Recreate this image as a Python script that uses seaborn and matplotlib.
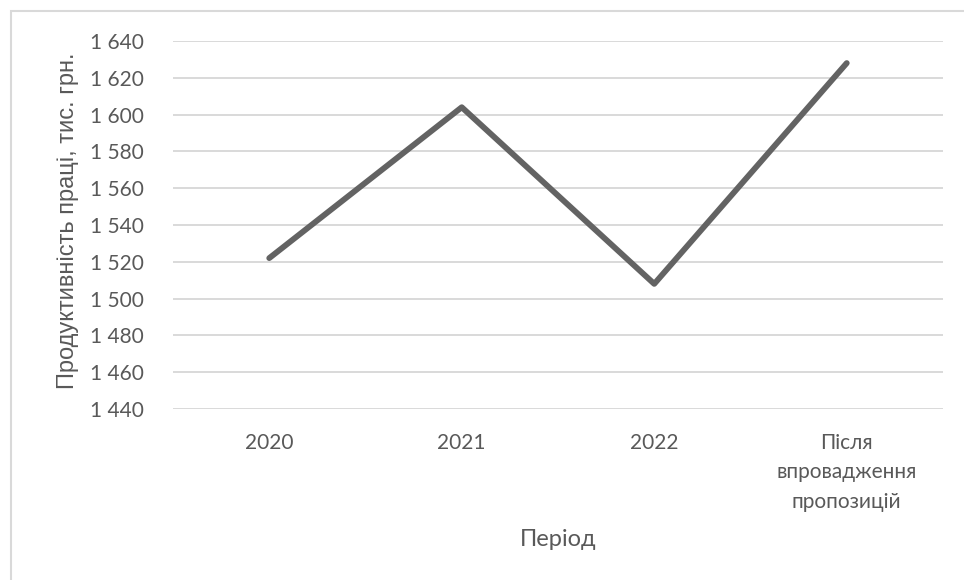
import matplotlib
matplotlib.use("Agg")
import matplotlib.pyplot as plt
from matplotlib.patches import Rectangle
import seaborn as sns
import pandas as pd

# Labour productivity by period, thousand UAH
periods = ["2020", "2021", "2022", "Після\nвпровадження\nпропозицій"]
productivity = [1522, 1604, 1508, 1628]
y_ticks = [1440, 1460, 1480, 1500, 1520, 1540, 1560, 1580, 1600, 1620, 1640]
y_tick_labels = ["1 440", "1 460", "1 480", "1 500", "1 520", "1 540",
                 "1 560", "1 580", "1 600", "1 620", "1 640"]

df = pd.DataFrame({"period": periods, "value": productivity})

sns.set_theme(style="white")
plt.rcParams["font.family"] = ["Lato", "Open Sans", "DejaVu Sans"]

W, H = 964, 580
fig = plt.figure(figsize=(W / 100, H / 100), dpi=100)
ax = fig.add_axes([173 / W, 1 - 409 / H, (943 - 173) / W, (409 - 41) / H])

text_color = "#595959"
grid_color = "#d9d9d9"

for yv in y_ticks:
    ax.axhline(yv, color=grid_color, lw=1.4, zorder=1)

sns.lineplot(data=df, x="period", y="value", ax=ax, color="#636363",
             lw=4.2, sort=False, zorder=3,
             solid_joinstyle="round", solid_capstyle="round")

ax.set_xlim(-0.5, len(periods) - 0.5)
ax.set_ylim(1440, 1640)
ax.set_yticks(y_ticks)
ax.set_yticklabels(y_tick_labels)
ax.tick_params(axis="y", length=0, pad=21, labelsize=15, labelcolor=text_color)
ax.tick_params(axis="x", length=0, pad=17, labelsize=15, labelcolor=text_color)
for lbl in ax.get_xticklabels():
    lbl.set_linespacing(1.6)
for s in ax.spines.values():
    s.set_visible(False)
ax.set_xlabel("")
ax.set_ylabel("")

fig.text(68 / W, 1 - 221 / H, "Продуктивність праці, тис. грн.",
         rotation=90, ha="center", va="center", fontsize=17,
         color=text_color, family=["Liberation Sans", "DejaVu Sans"])
fig.text(558 / W, 1 - 540 / H, "Період", ha="center", va="center",
         fontsize=17, color=text_color)

# chart area frame
fig.add_artist(Rectangle((11 / W, -0.1), 1.2, 1 - 11 / H + 0.1,
                         transform=fig.transFigure, fill=False,
                         edgecolor="#d9d9d9", lw=1.5, zorder=0))

fig.savefig("out.png", dpi=100)
